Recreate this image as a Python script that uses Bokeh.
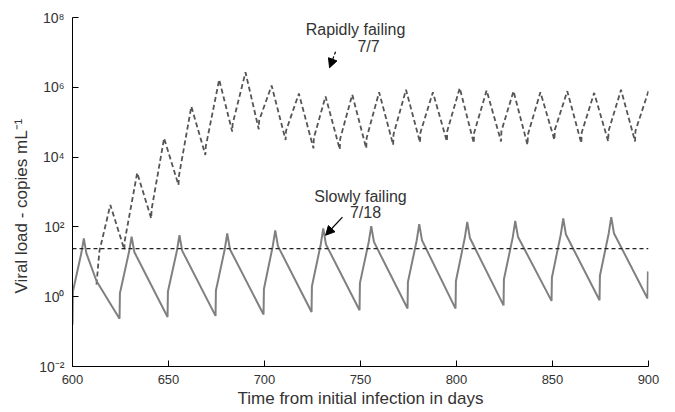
from bokeh.plotting import figure
from bokeh.models import Range1d, FixedTicker, Label, Arrow, NormalHead, Span
from bokeh.embed import file_html
from bokeh.resources import INLINE

# ---- data (values as log10 of copies/mL) ----
slow_t = [600.0, 600.2, 604.6, 605.9, 607.2, 612.5,
          624.5, 624.7, 629.5, 630.8, 632.2,
          649.5, 649.7, 654.4, 655.7, 657.1,
          674.5, 674.7, 679.3, 680.6, 682.0,
          699.5, 699.7, 704.3, 705.6, 707.0,
          724.5, 724.7, 729.3, 730.6, 732.0,
          749.5, 749.7, 754.3, 755.6, 757.0,
          774.5, 774.7, 779.3, 780.6, 782.0,
          799.5, 799.7, 804.3, 805.6, 807.0,
          824.5, 824.7, 829.3, 830.6, 832.0,
          849.5, 849.7, 854.3, 855.6, 857.0,
          874.5, 874.7, 879.3, 880.6, 882.0,
          899.5, 899.7, 900.0]
slow_log10 = [-0.80, 0.15, 1.25, 1.67, 1.25, 0.45,
              -0.63, 0.10, 1.30, 1.72, 1.28,
              -0.58, 0.15, 1.32, 1.76, 1.32,
              -0.55, 0.18, 1.36, 1.81, 1.36,
              -0.51, 0.22, 1.45, 1.90, 1.45,
              -0.44, 0.30, 1.50, 1.96, 1.50,
              -0.39, 0.39, 1.57, 2.02, 1.57,
              -0.34, 0.42, 1.62, 2.08, 1.62,
              -0.34, 0.45, 1.68, 2.14, 1.68,
              -0.25, 0.50, 1.70, 2.17, 1.72,
              -0.12, 0.55, 1.78, 2.24, 1.78,
              -0.10, 0.60, 1.82, 2.28, 1.82,
              -0.05, 0.70, 0.72]

rapid_t = [612.5, 614.0, 619.7, 627.0, 627.2, 633.7, 641.0, 641.2, 647.7,
           655.2, 655.4, 661.9, 669.2, 669.4, 676.4, 683.2, 683.4, 690.1,
           697.0, 697.2, 703.7, 711.0, 711.2, 717.9, 725.5, 725.7, 731.8,
           739.2, 739.4, 745.7, 753.0, 753.2, 759.7, 767.0, 767.2, 773.7,
           781.0, 781.2, 787.7, 795.0, 795.2, 801.7, 809.0, 809.2, 815.7,
           823.2, 823.4, 829.7, 837.0, 837.2, 843.7, 851.0, 851.2, 857.7,
           865.0, 865.2, 871.7, 879.0, 879.2, 885.7, 893.0, 893.2, 900.0]
rapid_log10 = [0.35, 1.30, 2.63, 1.35, 1.60, 3.55, 2.24, 2.50, 4.54,
               3.20, 3.45, 5.45, 4.06, 4.30, 6.22, 4.73, 4.95, 6.43,
               4.80, 5.05, 6.05, 4.49, 4.75, 5.82, 4.25, 4.55, 5.74,
               4.22, 4.52, 5.79, 4.25, 4.55, 5.86, 4.35, 4.65, 5.93,
               4.42, 4.70, 5.86, 4.45, 4.75, 5.98, 4.40, 4.70, 5.91,
               4.45, 4.75, 5.89, 4.35, 4.65, 5.86, 4.49, 4.78, 5.89,
               4.40, 4.70, 5.84, 4.45, 4.75, 5.93, 4.45, 4.75, 5.89]

threshold = 24.0

x_ticks = [600, 650, 700, 750, 800, 850, 900]
y_ticks = [1e-2, 1e0, 1e2, 1e4, 1e6, 1e8]
y_tick_labels = ["10\u207b\u00b2", "10\u2070", "10\u00b2", "10\u2074", "10\u2076", "10\u2078"]

slow_v = [10 ** v for v in slow_log10]
rapid_v = [10 ** v for v in rapid_log10]

FONT = "Liberation Sans"
TXT = "#333333"

p = figure(width=665, height=412, y_axis_type="log",
           x_range=Range1d(600, 900), y_range=Range1d(1e-2, 1e8),
           output_backend="svg", toolbar_location=None,
           min_border_left=72, min_border_right=17,
           min_border_top=17, min_border_bottom=46)
p.outline_line_color = None
p.grid.visible = False
p.background_fill_color = "white"
p.border_fill_color = "white"

# threshold
p.add_layout(Span(location=threshold, dimension="width", line_color="#222222",
                  line_width=1.2, line_dash="4 3"))

p.line(rapid_t, rapid_v, line_color="#555555", line_width=1.8, line_dash="5 3")
p.line(slow_t, slow_v, line_color="#808080", line_width=2)

# axes
for ax in (p.xaxis[0], p.yaxis[0]):
    ax.axis_line_color = "black"
    ax.axis_line_width = 1
    ax.major_tick_in = 6
    ax.major_tick_out = 0
    ax.minor_tick_line_color = None
    ax.major_tick_line_color = "black"
    ax.major_label_text_font = FONT
    ax.major_label_text_font_size = "13px"
    ax.major_label_text_color = TXT
    ax.axis_label_text_font = FONT
    ax.axis_label_text_font_size = "17px"
    ax.axis_label_text_color = TXT
    ax.axis_label_text_font_style = "normal"

p.xaxis.ticker = FixedTicker(ticks=x_ticks)
p.xaxis.major_label_standoff = 8
p.xaxis.axis_label = "Time from initial infection in days"
p.xaxis.axis_label_standoff = 2

p.yaxis.ticker = FixedTicker(ticks=y_ticks)
p.yaxis.major_label_overrides = {t: l for t, l in zip(y_ticks, y_tick_labels)}
p.yaxis.major_label_text_font_size = "14px"
p.yaxis.major_label_standoff = 8
# trailing no-break spaces nudge the visible title a little below the frame centre
p.yaxis.axis_label = "Viral load - copies mL\u207b\u00b9" + "\u00a0" * 6
p.yaxis.axis_label_standoff = 5

# annotations
def lab(x, y, text):
    p.add_layout(Label(x=x, y=y, text=text, text_align="center", text_baseline="middle",
                       text_font=FONT, text_font_size="16px", text_color=TXT))

lab(747.4, 10 ** 7.66, "Rapidly failing")
lab(754.2, 10 ** 7.17, "7/7")
lab(750.0, 10 ** 2.885, "Slowly failing")
lab(752.6, 10 ** 2.40, "7/18")

p.add_layout(Arrow(end=NormalHead(size=9, fill_color="black", line_color="black"),
                   x_start=737.0, y_start=10 ** 7.02, x_end=733.9, y_end=10 ** 6.56,
                   line_color="black", line_width=1.2, line_dash="3 2"))
p.add_layout(Arrow(end=NormalHead(size=9, fill_color="black", line_color="black"),
                   x_start=740.6, y_start=10 ** 2.28, x_end=731.8, y_end=10 ** 1.76,
                   line_color="black", line_width=1.2))

open("out.html", "w").write(file_html(p, INLINE))
